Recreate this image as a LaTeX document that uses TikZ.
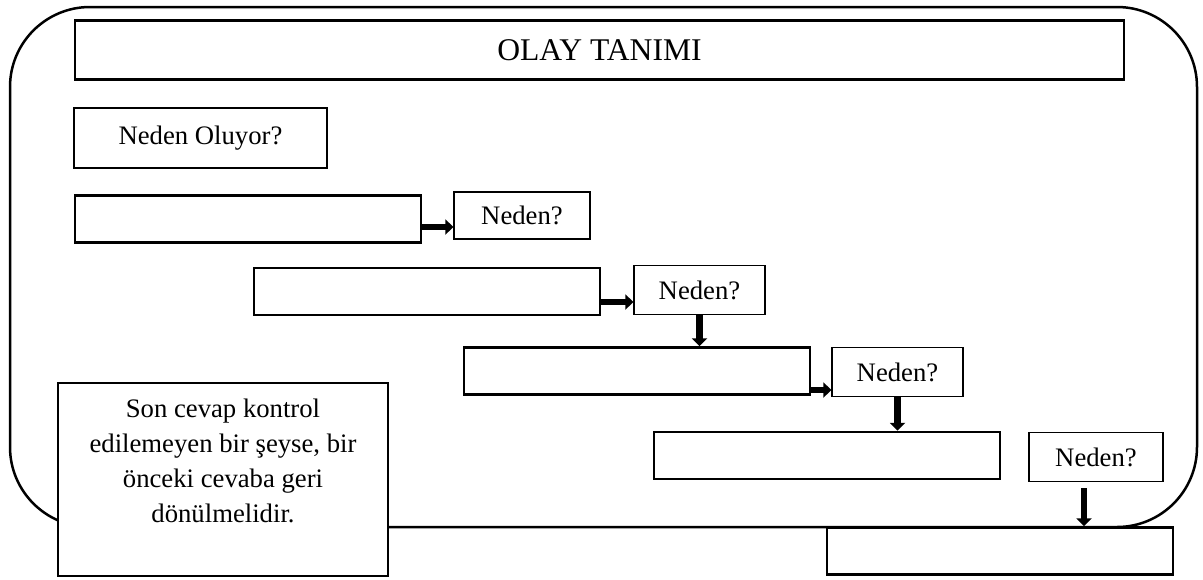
\documentclass[tikz,border=0pt]{standalone}
\usepackage{fontspec}
\setmainfont{Liberation Serif}
\usetikzlibrary{arrows.meta}
\usetikzlibrary{positioning}

\begin{document}
\begin{tikzpicture}[x=1pt,y=-1pt,
		kutu/.style={draw, line width=2.5pt, fill=white, minimum width=346pt, minimum height=47pt, inner sep=0pt},
		soru/.style={draw, line width=1.2pt, fill=white, minimum height=49pt, inner sep=0pt, font=\fontsize{26.7}{32}\selectfont},
		ok/.style={line width=6.5pt, -{Triangle[width=15pt,length=8pt]}}]
				\useasboundingbox (0,0) rectangle (1203,579);
				\draw[line width=2.5pt, rounded corners=80pt] (10,7) rectangle (1197,527);
				
				\node[draw, line width=2.5pt, minimum width=1049pt, minimum height=59pt, font=\fontsize{31.6}{38}\selectfont] (t) at (599.5,50) {OLAY TANIMI};
				\node[soru, minimum width=253pt, minimum height=60pt] (q) at (200.5,138) {Neden Oluyor?};
				
				\node[kutu] (c1) at (248,219) {};
				\node[kutu] (c2) at (427,291.5) {};
				\node[kutu] (c3) at (637,371) {};
				\node[kutu] (c4) at (827,455.5) {};
				\node[kutu] (c5) at (1000,551) {};
				
				\node[soru, minimum width=136pt, minimum height=47pt] (n1) at (522,215.5) {Neden?};
				\node[soru, minimum width=131pt] (n2) at (699.5,290) {Neden?};
				\node[soru, minimum width=131pt] (n3) at (897.5,372) {Neden?};
				\node[soru, minimum width=134pt] (n4) at (1096,457) {Neden?};
				
				\node[draw, line width=2pt, fill=white, minimum width=330pt, minimum height=193pt] (note) at (223,479.5) {};
				\node[below=17pt of note.north, align=center, inner sep=0pt, font=\fontsize{26.7}{35}\selectfont] (nt) {Son cevap kontrol\\edilemeyen bir şeyse, bir\\önceki cevaba geri\\dönülmelidir.};
				
				\draw[ok] ([yshift=-8pt]c1.east) -- ([yshift=-8pt]c1.east -| n1.west);
				\draw[ok] ([yshift=-10.5pt]c2.east) -- ([yshift=-10.5pt]c2.east -| n2.west);
				\draw[ok] ([yshift=-19pt]c3.east) -- ([yshift=-19pt]c3.east -| n3.west);
				
				\draw[ok] (n2.south) -- (n2.south |- c3.north);
				\draw[ok] (n3.south) -- (n3.south |- c4.north);
				\draw[ok] ([xshift=-12pt,yshift=-6pt]n4.south) -- ([xshift=-12pt]n4.south |- c5.north);
\end{tikzpicture}
\end{document}
